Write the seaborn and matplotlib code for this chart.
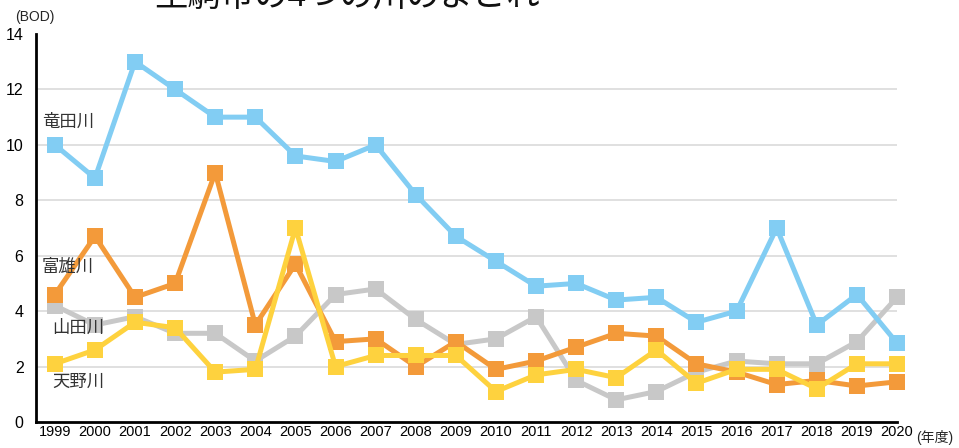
import numpy as np
import pandas as pd
import matplotlib
matplotlib.use("Agg")
import matplotlib.pyplot as plt
import seaborn as sns

years = list(range(1999, 2021))
tatsuta = [10, 8.8, 13, 12, 11, 11, 9.6, 9.4, 10, 8.2, 6.7, 5.8, 4.9, 5.0, 4.4, 4.5, 3.6, 4.0, 7.0, 3.5, 4.6, 2.85]
tomio = [4.6, 6.7, 4.5, 5.0, 9.0, 3.5, 5.7, 2.9, 3.0, 2.0, 2.9, 1.9, 2.2, 2.7, 3.2, 3.1, 2.1, 1.8, 1.35, 1.5, 1.3, 1.45]
yamada = [4.2, 3.5, 3.8, 3.2, 3.2, 2.2, 3.1, 4.6, 4.8, 3.7, 2.8, 3.0, 3.8, 1.5, 0.8, 1.1, 1.8, 2.2, 2.1, 2.1, 2.9, 4.5]
amano = [2.1, 2.6, 3.6, 3.4, 1.8, 1.9, 7.0, 2.0, 2.4, 2.4, 2.4, 1.1, 1.7, 1.9, 1.6, 2.6, 1.4, 1.9, 1.9, 1.2, 2.1, 2.1]

names = ["山田川", "富雄川", "天野川", "竜田川"]
colors = ["#c8c8c8", "#f39a3a", "#fed23e", "#82cdf3"]
label_pos = {"竜田川": (1998.68, 10.85), "富雄川": (1998.68, 5.6),
             "山田川": (1998.93, 3.4), "天野川": (1998.93, 1.45)}

sns.set_theme(style="white")
plt.rcParams['font.family'] = ['Liberation Sans', 'Noto Sans CJK JP']

df = pd.DataFrame({
    "year": years * 4,
    "bod": yamada + tomio + amano + tatsuta,
    "river": sum([[n] * len(years) for n in names], []),
})

fig = plt.figure(figsize=(9.59, 4.48), dpi=100)
ax = fig.add_axes([36 / 959, 1 - 422 / 448, (897 - 36) / 959, (422 - 34) / 448])

for n, c in zip(names, colors):
    sub = df[df["river"] == n]
    sns.lineplot(data=sub, x="year", y="bod", ax=ax, color=c, lw=3.6,
                 marker="s", markersize=12, markeredgewidth=0, clip_on=False, zorder=3)

for n, (x, y) in label_pos.items():
    ax.text(x, y, n, fontsize=12.5, color="#333333", ha="left", va="center")

ax.set_xlim(1998.53, 2020)
ax.set_ylim(0, 14)
ax.set_yticks(range(0, 15, 2))
ax.set_xticks(years)
ax.set_xticklabels([str(y) for y in years], fontsize=10.5)
ax.tick_params(axis="y", labelsize=11.5, length=0, pad=9, colors="black")
ax.tick_params(axis="x", direction="in", length=7, width=1.5, pad=2, colors="black")
for yv in range(2, 13, 2):
    ax.axhline(yv, color="#dddddd", lw=1.3, zorder=1)
ax.set_xlabel("")
ax.set_ylabel("")
for s in ["top", "right"]:
    ax.spines[s].set_visible(False)
for s in ["left", "bottom"]:
    ax.spines[s].set_color("black")
    ax.spines[s].set_linewidth(2)

fig.text(15 / 959, 1 - 17 / 448, "(BOD)", fontsize=10, ha="left", va="center")
fig.text(916 / 959, 1 - 437 / 448, "(年度)", fontsize=10, ha="left", va="center")
fig.text(347 / 959, 1 - 13 / 448, "生駒市の4つの川のよごれ", fontsize=24,
         ha="center", va="bottom", color="#111111")

fig.savefig("out.png", dpi=100)
